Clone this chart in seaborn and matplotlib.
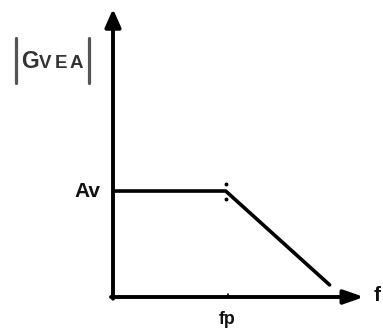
import matplotlib
matplotlib.use("Agg")
import matplotlib.pyplot as plt
import seaborn as sns
import pandas as pd

sns.set_theme(style="white")
plt.rcParams['font.family'] = ['Liberation Sans', 'DejaVu Sans']

# Bode magnitude sketch of the error amplifier: flat gain Av up to fp, then roll-off
freq = [0.0, 0.449, 0.863]
gain = [0.368, 0.368, 0.042]
fp = 0.449
tick_labels = ["fp"]

W, H = 383, 329
fig = plt.figure(figsize=(W / 100, H / 100), dpi=100)
x0, y0 = 113, 297          # origin in pixels (from top-left)
x1, y1 = 364, 9            # arrow tips
ax = fig.add_axes([x0 / W, (H - y0) / H, (x1 - x0) / W, (y0 - y1) / H])
ax.set_xlim(0, 1)
ax.set_ylim(0, 1)
ax.axis("off")

df = pd.DataFrame({"f": freq, "G": gain})
sns.lineplot(data=df, x="f", y="G", ax=ax, color="black", lw=2.6,
             sort=False, estimator=None, legend=False)

# axes with arrowheads
arrow = dict(arrowstyle="-|>,head_width=0.4,head_length=0.9", color="black",
             lw=2.8, shrinkA=0, shrinkB=0)
ax.annotate("", xy=(0, 1.0), xytext=(0, -0.006), xycoords="data", arrowprops=arrow,
            annotation_clip=False)
ax.annotate("", xy=(1.0, 0), xytext=(-0.008, 0), xycoords="data",
            arrowprops=dict(arrow, arrowstyle="-|>,head_width=0.35,head_length=1.0"),
            annotation_clip=False)

# small marks near the break point
ax.plot([fp, fp], [gain[0] + 0.026, gain[0] - 0.028], ls="none", marker="o",
        ms=1.8, color="black")
ax.plot([fp + 0.008, fp + 0.008], [0, 0.012], color="black", lw=1.2)

# labels
ax.text(-0.05, gain[0], "Av", ha="right", va="center", fontsize=15,
        fontweight="bold", color="#111111")
ax.text(fp + 0.006, -0.047, tick_labels[0], ha="center", va="top", fontsize=12.8,
        fontweight="bold", color="#111111")
ax.text(1.04, 0.005, "f", ha="left", va="center", fontsize=15,
        fontweight="bold", color="#111111")

# |GVEA| symbol
fig.text(30 / W, 1 - 61.5 / H, "G", ha="center", va="center", fontsize=16.5,
         fontweight="bold", color="#333333")
for ch, cx in zip("VEA", [45, 61, 76]):
    fig.text(cx / W, 1 - 63 / H, ch, ha="center", va="center", fontsize=13.5,
             fontweight="bold", color="#333333")
fig.add_artist(plt.Line2D([16 / W, 16 / W], [1 - 38 / H, 1 - 83 / H], color="#555555", lw=2.3))
fig.add_artist(plt.Line2D([89 / W, 89 / W], [1 - 38 / H, 1 - 83 / H], color="#555555", lw=2.3))

fig.savefig("out.png", dpi=100)
